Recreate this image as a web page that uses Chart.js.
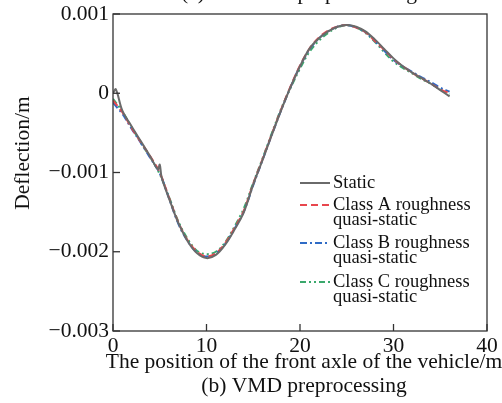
<!DOCTYPE html>
<html>
<head>
<meta charset="utf-8">
<script src="https://cdn.jsdelivr.net/npm/chart.js@4/dist/chart.umd.min.js"></script>
<style>
  html, body { margin: 0; padding: 0; background: #fff; }
  #wrap { width: 502px; height: 403px; }
</style>
</head>
<body>
<div id="wrap"><canvas id="chart" width="502" height="403"></canvas></div>
<script>
// Positions along the bridge (m) and deflections (x 1e-3 m)
const staticX = [0, 0.3, 1, 2, 3, 4, 4.8, 5.0, 5.2, 6, 7, 8, 9, 10, 11, 12, 13, 14, 15, 16, 17, 18, 19, 20,
  21, 22, 23, 24, 25, 26, 27, 28, 29, 30, 31, 32, 33, 34, 35, 36];
const staticY = [0.00, 0.05, -0.22, -0.42, -0.61, -0.80, -0.96, -0.90, -1.06, -1.33, -1.64, -1.87, -2.02, -2.08, -2.04, -1.91, -1.72, -1.50, -1.15, -0.84, -0.52, -0.21, 0.08, 0.34,
  0.56, 0.69, 0.78, 0.84, 0.86, 0.84, 0.78, 0.68, 0.56, 0.44, 0.34, 0.26, 0.19, 0.12, 0.04, -0.04];

const positions = [0, 1, 2, 3, 4, 5, 6, 7, 8, 9, 10, 11, 12, 13, 14, 15, 16, 17, 18, 19, 20,
  21, 22, 23, 24, 25, 26, 27, 28, 29, 30, 31, 32, 33, 34, 35, 36];
const classA = [-0.09, -0.24, -0.44, -0.62, -0.80, -1.00, -1.32, -1.63, -1.86, -2.00, -2.06, -2.02, -1.89, -1.70, -1.48, -1.14, -0.83, -0.51, -0.20, 0.09, 0.35,
  0.56, 0.70, 0.79, 0.84, 0.86, 0.83, 0.77, 0.66, 0.55, 0.43, 0.34, 0.26, 0.19, 0.12, 0.05, 0.00];
const classB = [-0.12, -0.26, -0.45, -0.63, -0.82, -1.01, -1.33, -1.65, -1.87, -2.01, -2.06, -2.02, -1.90, -1.71, -1.49, -1.16, -0.84, -0.52, -0.21, 0.08, 0.34,
  0.55, 0.69, 0.78, 0.84, 0.86, 0.83, 0.77, 0.66, 0.54, 0.42, 0.34, 0.27, 0.20, 0.14, 0.07, 0.02];
const classC = [-0.07, -0.23, -0.43, -0.63, -0.81, -1.02, -1.31, -1.62, -1.84, -1.99, -2.03, -2.00, -1.88, -1.68, -1.45, -1.13, -0.82, -0.50, -0.19, 0.07, 0.31,
  0.52, 0.66, 0.76, 0.83, 0.86, 0.83, 0.76, 0.65, 0.52, 0.40, 0.32, 0.25, 0.18, 0.12, 0.05, -0.01];

const xTicks = [0, 10, 20, 30, 40];
const yTicks = [0.001, 0, -0.001, -0.002, -0.003];
const legendLines = [['Static'], ['Class A roughness', 'quasi-static'], ['Class B roughness', 'quasi-static'], ['Class C roughness', 'quasi-static']];

const SERIF = '"Liberation Serif", "DejaVu Serif", serif';

function toPoints(xs, ys) {
  return xs.map((x, i) => ({ x: x, y: ys[i] / 1000 }));
}

function fmt(v) {
  if (Math.abs(v) < 1e-9) return '0';
  return v.toFixed(3).replace('-', '\u2212');
}

const datasets = [
  { label: 'Static', data: toPoints(staticX, staticY), borderColor: '#6a6a6a', borderWidth: 2, borderDash: [] },
  { label: 'Class A roughness quasi-static', data: toPoints(positions, classA), borderColor: '#e8474d', borderWidth: 2, borderDash: [7, 4] },
  { label: 'Class B roughness quasi-static', data: toPoints(positions, classB), borderColor: '#2f6bc6', borderWidth: 2, borderDash: [7, 3, 2, 3] },
  { label: 'Class C roughness quasi-static', data: toPoints(positions, classC), borderColor: '#3aa86c', borderWidth: 2, borderDash: [6, 3, 2, 3, 2, 3] }
].map(d => Object.assign(d, { showLine: true, pointRadius: 0, tension: 0.35, fill: false }));

// Frame, inward ticks, labels, titles and a two-line legend
const decor = {
  id: 'decor',
  afterDraw(chart) {
    const ctx = chart.ctx;
    const a = chart.chartArea;
    const xs = chart.scales.x, ys = chart.scales.y;
    ctx.save();
    ctx.strokeStyle = '#333';
    ctx.lineWidth = 1.3;
    ctx.strokeRect(a.left, a.top, a.right - a.left, a.bottom - a.top);

    ctx.fillStyle = '#111';
    ctx.font = '21.5px ' + SERIF;
    // y ticks
    ctx.textAlign = 'right';
    ctx.textBaseline = 'middle';
    yTicks.forEach(v => {
      const py = ys.getPixelForValue(v);
      ctx.beginPath();
      ctx.moveTo(a.left, py);
      ctx.lineTo(a.left + 7, py);
      ctx.stroke();
      ctx.fillText(fmt(v), a.left - 4, py);
    });
    // x ticks
    ctx.textAlign = 'center';
    xTicks.forEach(v => {
      const px = xs.getPixelForValue(v);
      ctx.beginPath();
      ctx.moveTo(px, a.bottom);
      ctx.lineTo(px, a.bottom - 7);
      ctx.stroke();
      ctx.fillText(String(v), px, a.bottom + 15);
    });
    // axis titles and captions
    ctx.fillText('The position of the front axle of the vehicle/m', 304, 362);
    ctx.fillText('(b) VMD preprocessing', 304, 386);
    ctx.textBaseline = 'alphabetic';
    ctx.fillText('(a) No VMD preprocessing', 299, -1);
    ctx.save();
    ctx.translate(23, 153);
    ctx.rotate(-Math.PI / 2);
    ctx.textBaseline = 'middle';
    ctx.fillText('Deflection/m', 0, 0);
    ctx.restore();

    // legend
    const rows = [183, 205, 243, 282];
    ctx.font = '18.5px ' + SERIF;
    ctx.textAlign = 'left';
    ctx.textBaseline = 'middle';
    chart.data.datasets.forEach((d, i) => {
      const y = rows[i];
      ctx.save();
      ctx.strokeStyle = d.borderColor;
      ctx.lineWidth = 2;
      ctx.setLineDash(d.borderDash);
      ctx.beginPath();
      ctx.moveTo(300, y);
      ctx.lineTo(330, y);
      ctx.stroke();
      ctx.restore();
      ctx.fillStyle = '#111';
      legendLines[i].forEach((t, k) => ctx.fillText(t, 333, y + k * 15));
    });
    ctx.restore();
  }
};

new Chart(document.getElementById('chart'), {
  type: 'scatter',
  data: { datasets: datasets },
  options: {
    responsive: false,
    animation: false,
    layout: { padding: { left: 0, right: 15, top: 14, bottom: 0 } },
    plugins: { legend: { display: false }, tooltip: { enabled: false } },
    scales: {
      x: {
        type: 'linear', min: 0, max: 40,
        ticks: { display: false, stepSize: 10 },
        grid: { display: false },
        border: { display: false },
        afterFit: s => { s.height = 72; }
      },
      y: {
        type: 'linear', min: -0.003, max: 0.001,
        ticks: { display: false, stepSize: 0.001 },
        grid: { display: false },
        border: { display: false },
        afterFit: s => { s.width = 113; }
      }
    }
  },
  plugins: [decor]
});
</script>
</body>
</html>
